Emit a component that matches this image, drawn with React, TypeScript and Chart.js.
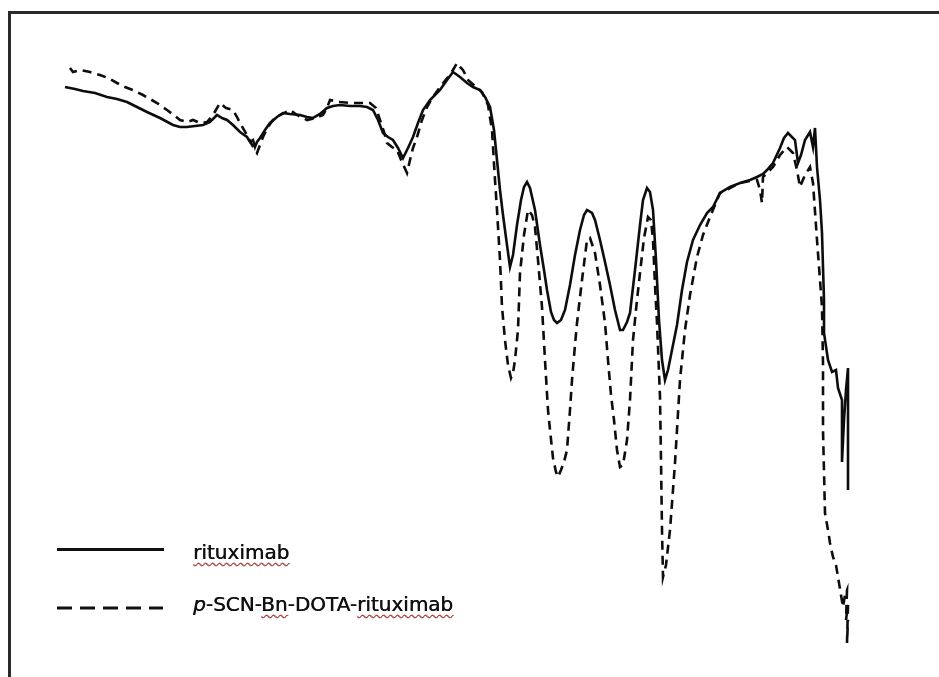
import React, { useEffect, useRef } from "react";
import { Chart, registerables } from "chart.js";

Chart.register(...registerables);

// Spectral traces: [position (a.u.), transmittance (a.u.)]
const rituximabSpectrum: [number, number][] = [
  [65, 590], [75, 588], [83, 586], [95, 584], [107, 580], [117, 578], [127, 575], [137, 570], [147, 565],
  [160, 559], [173, 552], [180, 550], [187, 550], [195, 551], [203, 552], [210, 555], [217, 562], [222, 559],
  [227, 557], [233, 552], [240, 545], [247, 540], [250, 535], [253, 537], [255, 530], [257, 535], [260, 539],
  [265, 547], [270, 554], [277, 560], [283, 564], [290, 563], [300, 562], [307, 560], [313, 559], [320, 563],
  [327, 569], [333, 571], [340, 572], [350, 571], [360, 571], [367, 570], [373, 567], [378, 557], [383, 544],
  [388, 540], [393, 537], [398, 529], [403, 519], [408, 529], [413, 540], [418, 554], [423, 567], [430, 577],
  [440, 587], [447, 597], [453, 605], [460, 600], [467, 594], [473, 590], [480, 587], [485, 580], [490, 570],
  [494, 547], [497, 517], [500, 487], [503, 462], [507, 432], [510, 410], [513, 422], [517, 452], [521, 477],
  [524, 490], [527, 495], [530, 489], [535, 467], [540, 432], [544, 407], [547, 387], [551, 365], [554, 357],
  [557, 354], [561, 357], [565, 367], [570, 392], [575, 422], [580, 447], [584, 462], [587, 467], [592, 464],
  [595, 457], [600, 437], [605, 415], [610, 392], [615, 367], [620, 347], [623, 347], [627, 355], [630, 364],
  [635, 407], [640, 452], [643, 477], [647, 489], [650, 485], [653, 467], [656, 417], [659, 357], [662, 317],
  [665, 297], [668, 307], [672, 327], [677, 352], [682, 387], [687, 415], [693, 437], [700, 452], [707, 464],
  [713, 470], [720, 484], [730, 490], [740, 494], [750, 497], [757, 500], [763, 503], [767, 507], [773, 514],
  [780, 529], [784, 539], [788, 544], [795, 537], [798, 514], [801, 522], [805, 537], [810, 545], [813, 530],
  [815, 549], [817, 510], [820, 477], [822, 444], [823, 410], [824, 377], [824, 344], [828, 317], [832, 305],
  [836, 307], [838, 289], [842, 277], [842, 215], [844, 257], [846, 287], [848, 309], [848, 187],
];

const dotaRituximabSpectrum: [number, number][] = [
  [70, 609], [73, 605], [80, 607], [90, 605], [100, 602], [108, 599], [117, 594], [125, 590], [133, 587],
  [143, 582], [150, 578], [157, 574], [167, 567], [175, 561], [180, 557], [187, 555], [193, 557], [200, 554],
  [207, 555], [213, 562], [220, 574], [226, 569], [233, 567], [237, 560], [240, 554], [247, 542], [252, 532],
  [257, 524], [260, 532], [263, 540], [268, 550], [273, 557], [280, 562], [290, 567], [297, 562], [307, 557],
  [315, 559], [323, 562], [327, 569], [330, 577], [340, 575], [350, 574], [360, 574], [370, 574], [376, 569],
  [380, 557], [384, 545], [387, 534], [392, 530], [397, 527], [402, 515], [407, 504], [410, 517], [413, 529],
  [417, 540], [422, 557], [427, 570], [433, 580], [440, 590], [448, 600], [453, 607], [457, 614], [460, 610],
  [463, 607], [468, 597], [475, 591], [482, 585], [488, 572], [492, 547], [495, 497], [497, 467], [500, 417],
  [502, 370], [505, 337], [508, 312], [511, 299], [513, 304], [515, 317], [518, 347], [520, 404], [524, 442],
  [528, 467], [532, 462], [535, 450], [538, 417], [542, 370], [545, 317], [548, 267], [550, 247], [553, 219],
  [556, 205], [558, 200], [561, 207], [564, 215], [567, 227], [570, 267], [572, 297], [575, 332], [577, 354],
  [582, 397], [587, 437], [590, 439], [595, 424], [600, 392], [605, 354], [608, 317], [611, 282], [614, 257],
  [617, 227], [620, 210], [623, 212], [627, 237], [630, 277], [633, 337], [637, 377], [640, 404], [644, 439],
  [648, 460], [651, 457], [653, 437], [655, 392], [657, 354], [660, 280], [661, 217], [662, 147], [663, 100],
  [666, 112], [670, 147], [675, 214], [680, 297], [685, 347], [690, 382], [697, 420], [703, 442], [710, 460],
  [720, 484], [730, 489], [740, 494], [750, 496], [757, 497], [760, 487], [762, 474], [763, 500], [768, 505],
  [773, 510], [780, 522], [787, 530], [793, 524], [797, 507], [800, 490], [805, 502], [810, 510], [813, 494],
  [817, 437], [820, 397], [822, 370], [823, 314], [823, 247], [825, 164], [828, 147], [830, 134], [833, 120],
  [836, 112], [838, 100], [841, 82], [843, 70], [845, 82], [847, 87], [846, 57], [848, 72], [847, 34], [848, 57],
];

const seriesLabels = ["rituximab", "p-SCN-Bn-DOTA-rituximab"];
const xRange: [number, number] = [0, 939];
const yRange: [number, number] = [0, 677];

const toPoints = (arr: [number, number][]) => arr.map(([x, y]) => ({ x, y }));

export default function App() {
  const canvasRef = useRef<HTMLCanvasElement | null>(null);

  useEffect(() => {
    if (!canvasRef.current) return;
    const chart = new Chart(canvasRef.current, {
      type: "line",
      data: {
        datasets: [
          {
            label: seriesLabels[0],
            data: toPoints(rituximabSpectrum),
            borderColor: "#0d0d0d",
            borderWidth: 2.6,
            pointRadius: 0,
            tension: 0,
            fill: false,
          },
          {
            label: seriesLabels[1],
            data: toPoints(dotaRituximabSpectrum),
            borderColor: "#0d0d0d",
            borderWidth: 2.6,
            borderDash: [9, 6],
            pointRadius: 0,
            tension: 0,
            fill: false,
          },
        ],
      },
      options: {
        animation: false,
        responsive: true,
        maintainAspectRatio: false,
        layout: { padding: 0 },
        scales: {
          x: { type: "linear", min: xRange[0], max: xRange[1], display: false },
          y: { type: "linear", min: yRange[0], max: yRange[1], display: false },
        },
        plugins: {
          legend: { display: false },
          tooltip: { enabled: false },
        },
      },
    });
    return () => chart.destroy();
  }, []);

  const font = '"DejaVu Sans", Verdana, sans-serif';
  const squiggle: React.CSSProperties = {
    textDecorationLine: "underline",
    textDecorationStyle: "wavy",
    textDecorationColor: "#e23a3a",
    textDecorationThickness: "1px",
    textUnderlineOffset: "3px",
  };
  const textStyle: React.CSSProperties = {
    position: "absolute",
    left: 193,
    fontFamily: font,
    fontSize: 20,
    lineHeight: "20px",
    color: "#111",
    whiteSpace: "nowrap",
    textShadow: "0.5px 0 0 #111",
  };

  return (
    <div style={{ position: "fixed", left: 0, top: 0, width: 939, height: 677, background: "#fff", overflow: "hidden" }}>
      <div
        style={{
          position: "absolute",
          left: 8,
          top: 11,
          right: -10,
          bottom: -10,
          borderLeft: "3px solid #2a2a2a",
          borderTop: "3px solid #2a2a2a",
        }}
      />
      <div style={{ position: "absolute", left: 0, top: 0, width: 939, height: 677 }}>
        <canvas ref={canvasRef} />
      </div>
      <div style={{ position: "absolute", left: 57, top: 548, width: 107, height: 3, background: "#111" }} />
      <svg style={{ position: "absolute", left: 57, top: 605 }} width={110} height={6}>
        <line x1={0} y1={3} x2={106} y2={3} stroke="#111" strokeWidth={3} strokeDasharray="15 8" />
      </svg>
      <div style={{ ...textStyle, top: 542 }}>
        <span style={squiggle}>{seriesLabels[0]}</span>
      </div>
      <div style={{ ...textStyle, top: 594 }}>
        <i>p</i>-SCN-<span style={squiggle}>Bn</span>-DOTA-<span style={squiggle}>rituximab</span>
      </div>
    </div>
  );
}
